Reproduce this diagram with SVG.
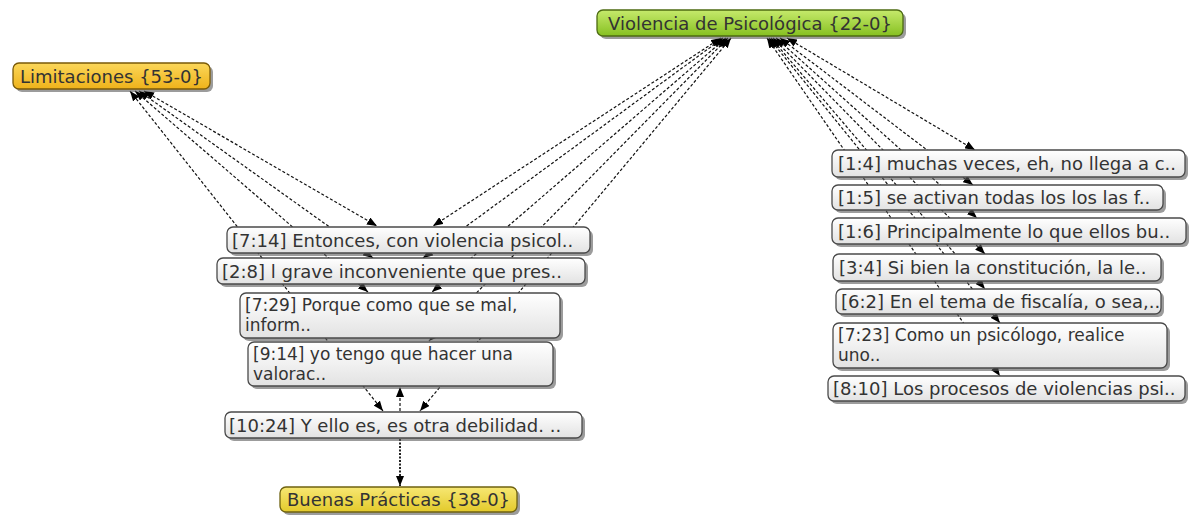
<svg xmlns="http://www.w3.org/2000/svg" width="1197" height="515" viewBox="0 0 1197 515">
<defs>
<linearGradient id="gQuote" x1="0" y1="0" x2="0" y2="1">
<stop offset="0" stop-color="#ffffff"/><stop offset="1" stop-color="#e2e2e2"/>
</linearGradient>
<linearGradient id="gGreen" x1="0" y1="0" x2="0" y2="1">
<stop offset="0" stop-color="#c6ea6c"/><stop offset="1" stop-color="#86c021"/>
</linearGradient>
<linearGradient id="gOrange" x1="0" y1="0" x2="0" y2="1">
<stop offset="0" stop-color="#fbd75a"/><stop offset="1" stop-color="#eeb21a"/>
</linearGradient>
<linearGradient id="gYellow" x1="0" y1="0" x2="0" y2="1">
<stop offset="0" stop-color="#f7e773"/><stop offset="1" stop-color="#e3ca2b"/>
</linearGradient>
<marker id="ah" viewBox="0 0 10 8" refX="10" refY="4" markerWidth="10" markerHeight="8" markerUnits="userSpaceOnUse" orient="auto-start-reverse">
<path d="M0,0 L10,4 L0,8 Z" fill="#000"/>
</marker>
</defs>
<style>
.bg{fill:#ffffff}
.lk{fill:none;stroke:#111;stroke-width:1.2;stroke-dasharray:3 2}
.both{marker-start:url(#ah);marker-end:url(#ah)}
.one{marker-end:url(#ah)}
.thick{fill:none;stroke:#222;stroke-width:2;stroke-dasharray:2 1.5}
.sh{fill:#5a5a5a;opacity:0.6}
.q{fill:url(#gQuote);stroke:#4a4a4a;stroke-width:1.3}
.root{fill:url(#gGreen);stroke:#4d6b12;stroke-width:1.3}
.lim{fill:url(#gOrange);stroke:#7a5a08;stroke-width:1.3}
.bp{fill:url(#gYellow);stroke:#6f6210;stroke-width:1.3}
.t{font-family:"DejaVu Sans",Verdana,sans-serif;font-size:18px;fill:#333}
.t2{font-family:"DejaVu Sans",Verdana,sans-serif;font-size:17px;fill:#333}
</style>
<rect class="bg" x="0" y="0" width="1197" height="515"/>
<g id="connectors">
<path class="lk both" d="M144,91 L377,226"/>
<path class="lk both" d="M139,91 L373,258"/>
<path class="lk both" d="M135,91 L368,292"/>
<path class="lk both" d="M130,91 L383,411"/>
<path class="lk both" d="M721,38 L433,226"/>
<path class="lk both" d="M723,38 L423,258"/>
<path class="lk both" d="M726,38 L432,292"/>
<path class="lk both" d="M728,38 L429,341"/>
<path class="lk both" d="M731,38 L420,411"/>
<path class="lk both" d="M787,38 L975,150"/>
<path class="lk both" d="M780,38 L973,185"/>
<path class="lk both" d="M776,38 L977,218"/>
<path class="lk both" d="M773,38 L985,254"/>
<path class="lk both" d="M771,38 L985,289"/>
<path class="lk both" d="M769,38 L1000,323"/>
<path class="lk both" d="M767,38 L1000,376"/>
<path class="lk one" d="M400,411 L400,387"/>
<path class="thick one" d="M400,439 L400,486"/>
</g>
<g id="n-root">
<rect class="sh" x="600" y="13" width="306" height="26" rx="6"/>
<rect class="root" x="597" y="10" width="306" height="26" rx="6"/>
<text class="t" x="608" y="29.5">Violencia de Psicológica {22-0}</text>
</g>
<g id="n-lim">
<rect class="sh" x="16" y="66" width="197" height="26" rx="6"/>
<rect class="lim" x="13" y="63" width="197" height="26" rx="6"/>
<text class="t" x="20" y="82.5">Limitaciones {53-0}</text>
</g>
<g id="n-bp">
<rect class="sh" x="283" y="490" width="237" height="25" rx="6"/>
<rect class="bp" x="280" y="487" width="237" height="25" rx="6"/>
<text class="t" x="287" y="506">Buenas Prácticas {38-0}</text>
</g>
<g id="n-714">
<rect class="sh" x="230" y="230" width="363" height="26" rx="6"/>
<rect class="q" x="227" y="227" width="363" height="26" rx="6"/>
<text class="t" x="232" y="246.5">[7:14] Entonces, con violencia psicol..</text>
</g>
<g id="n-28">
<rect class="sh" x="220" y="261" width="368" height="26" rx="6"/>
<rect class="q" x="217" y="258" width="368" height="26" rx="6"/>
<text class="t" x="222" y="277.5">[2:8] l grave inconveniente que pres..</text>
</g>
<g id="n-729">
<rect class="sh" x="243" y="296" width="320" height="45" rx="6"/>
<rect class="q" x="240" y="293" width="320" height="45" rx="6"/>
<text class="t2" x="245" y="310.5">[7:29] Porque como que se mal,</text>
<text class="t2" x="245" y="330.5">inform..</text>
</g>
<g id="n-914">
<rect class="sh" x="251" y="345" width="305" height="44" rx="6"/>
<rect class="q" x="248" y="342" width="305" height="44" rx="6"/>
<text class="t2" x="253" y="360">[9:14] yo tengo que hacer una</text>
<text class="t2" x="253" y="380">valorac..</text>
</g>
<g id="n-1024">
<rect class="sh" x="228" y="415" width="357" height="26" rx="6"/>
<rect class="q" x="225" y="412" width="357" height="26" rx="6"/>
<text class="t" x="229" y="431.5">[10:24] Y ello es, es otra debilidad. ..</text>
</g>
<g id="n-14">
<rect class="sh" x="835" y="153" width="353" height="27" rx="6"/>
<rect class="q" x="832" y="150" width="353" height="27" rx="6"/>
<text class="t" x="838" y="170">[1:4] muchas veces, eh, no llega a c..</text>
</g>
<g id="n-15">
<rect class="sh" x="835" y="188" width="331" height="25" rx="6"/>
<rect class="q" x="832" y="185" width="331" height="25" rx="6"/>
<text class="t" x="838" y="204">[1:5] se activan todas los los las f..</text>
</g>
<g id="n-16">
<rect class="sh" x="835" y="221" width="354" height="26" rx="6"/>
<rect class="q" x="832" y="218" width="354" height="26" rx="6"/>
<text class="t" x="838" y="237.5">[1:6] Principalmente lo que ellos bu..</text>
</g>
<g id="n-34">
<rect class="sh" x="836" y="257" width="328" height="27" rx="6"/>
<rect class="q" x="833" y="254" width="328" height="27" rx="6"/>
<text class="t" x="839" y="274">[3:4] Si bien la constitución, la le..</text>
</g>
<g id="n-62">
<rect class="sh" x="839" y="292" width="325" height="25" rx="6"/>
<rect class="q" x="836" y="289" width="325" height="25" rx="6"/>
<text class="t" x="841" y="308">[6:2] En el tema de fiscalía, o sea,..</text>
</g>
<g id="n-723">
<rect class="sh" x="836" y="326" width="334" height="45" rx="6"/>
<rect class="q" x="833" y="323" width="334" height="45" rx="6"/>
<text class="t2" x="838" y="340.5">[7:23] Como un psicólogo, realice</text>
<text class="t2" x="838" y="360.5">uno..</text>
</g>
<g id="n-810">
<rect class="sh" x="831" y="379" width="357" height="25" rx="6"/>
<rect class="q" x="828" y="376" width="357" height="25" rx="6"/>
<text class="t" x="833" y="395">[8:10] Los procesos de violencias psi..</text>
</g>
</svg>
